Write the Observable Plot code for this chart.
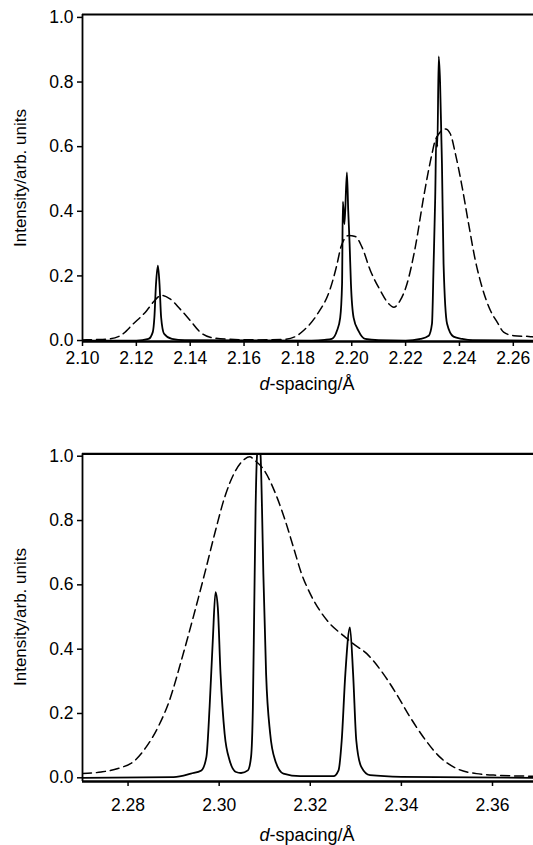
<!DOCTYPE html>
<html>
<head>
<meta charset="utf-8">
<script src="https://cdn.jsdelivr.net/npm/d3@7"></script>
<script src="https://cdn.jsdelivr.net/npm/@observablehq/plot@0.6"></script>
<style>
  html, body { margin: 0; padding: 0; background: white; }
  #chart { width: 533px; height: 845px; overflow: hidden; }
  #chart svg { display: block; }
</style>
</head>
<body>
<div id="chart"></div>
<script>
// ---------- data ----------
const yTicks = [0, 0.2, 0.4, 0.6, 0.8, 1.0];
const topXTicks = [2.10, 2.12, 2.14, 2.16, 2.18, 2.20, 2.22, 2.24, 2.26];
const bottomXTicks = [2.28, 2.30, 2.32, 2.34, 2.36];
const xLabelParts = ["d", "-spacing/Å"];
const yLabel = "Intensity/arb. units";

// top panel, solid (sharp) profile
const topSolidD = [2.1000, 2.1200, 2.1245, 2.1261, 2.1267, 2.1273, 2.1280, 2.1286, 2.1292, 2.1303, 2.1332, 2.1380,
  2.1850, 2.1900, 2.1926, 2.1945, 2.1957, 2.1964, 2.1967, 2.1973, 2.1982, 2.1987, 2.1992, 2.1997, 2.2007, 2.2025, 2.2050, 2.2100,
  2.2200, 2.2255, 2.2286, 2.2298, 2.2304, 2.2310, 2.2314, 2.2318, 2.2323, 2.2328, 2.2333, 2.2335, 2.2341, 2.2354, 2.2378, 2.2410, 2.2450, 2.2675];
const topSolidI = [0.000, 0.000, 0.005, 0.026, 0.072, 0.175, 0.232, 0.175, 0.072, 0.021, 0.005, 0.001,
  0.000, 0.002, 0.005, 0.030, 0.070, 0.175, 0.430, 0.360, 0.520, 0.400, 0.300, 0.175, 0.070, 0.030, 0.005, 0.001,
  0.000, 0.005, 0.015, 0.052, 0.237, 0.444, 0.630, 0.600, 0.879, 0.800, 0.620, 0.547, 0.237, 0.052, 0.012, 0.005, 0.001, 0.000];

// top panel, dashed (broad) profile
const topDashedD = [2.1000, 2.1050, 2.1100, 2.1146, 2.1189, 2.1239, 2.1263, 2.1294, 2.1325, 2.1362, 2.1400, 2.1437, 2.1474, 2.1540,
  2.1650, 2.1750, 2.1790, 2.1821, 2.1871, 2.1920, 2.1945, 2.1960, 2.1988, 2.2013, 2.2038, 2.2069, 2.2106, 2.2137, 2.2156,
  2.2180, 2.2205, 2.2236, 2.2267, 2.2298, 2.2310, 2.2348, 2.2366, 2.2385, 2.2410, 2.2434, 2.2459, 2.2484, 2.2515, 2.2540,
  2.2564, 2.2602, 2.2664, 2.2675];
const topDashedI = [0.002, 0.003, 0.005, 0.018, 0.052, 0.093, 0.119, 0.140, 0.129, 0.098, 0.062, 0.026, 0.010, 0.004,
  0.002, 0.004, 0.012, 0.031, 0.080, 0.160, 0.235, 0.290, 0.325, 0.322, 0.289, 0.217, 0.155, 0.114, 0.103,
  0.124, 0.175, 0.289, 0.444, 0.578, 0.619, 0.655, 0.640, 0.578, 0.475, 0.361, 0.248, 0.165, 0.093, 0.057,
  0.026, 0.015, 0.012, 0.011];

// bottom panel, solid (sharp) profile
const botSolidD = [2.2700, 2.2900, 2.2938, 2.2961, 2.2972, 2.2979, 2.2986, 2.2992, 2.2997, 2.3003, 2.3012, 2.3023, 2.3037,
  2.3048, 2.3063, 2.3070, 2.3074, 2.3077, 2.3080, 2.3083, 2.3087, 2.3091, 2.3094, 2.3097, 2.3103, 2.3112, 2.3123, 2.3141,
  2.3178, 2.3251, 2.3262, 2.3269, 2.3277, 2.3287, 2.3294, 2.3301, 2.3312, 2.3331, 2.3400, 2.3690];
const botSolidI = [0.000, 0.002, 0.013, 0.023, 0.065, 0.220, 0.427, 0.577, 0.530, 0.324, 0.137, 0.054, 0.018,
  0.015, 0.023, 0.065, 0.220, 0.530, 0.840, 1.000, 1.050, 1.000, 0.840, 0.634, 0.324, 0.137, 0.054, 0.013,
  0.005, 0.005, 0.023, 0.116, 0.324, 0.468, 0.324, 0.116, 0.034, 0.008, 0.003, 0.000];

// bottom panel, dashed (broad) profile
const botDashedD = [2.2700, 2.2741, 2.2778, 2.2815, 2.2840, 2.2866, 2.2891, 2.2917, 2.2943, 2.2968, 2.2990, 2.3012, 2.3034,
  2.3056, 2.3067, 2.3079, 2.3097, 2.3127, 2.3145, 2.3163, 2.3181, 2.3200, 2.3221, 2.3243, 2.3272, 2.3294, 2.3324, 2.3360,
  2.3389, 2.3419, 2.3448, 2.3484, 2.3521, 2.3565, 2.3608, 2.3690];
const botDashedI = [0.013, 0.018, 0.029, 0.054, 0.096, 0.158, 0.241, 0.365, 0.499, 0.634, 0.758, 0.872, 0.950,
  0.991, 0.998, 0.986, 0.960, 0.872, 0.800, 0.717, 0.634, 0.572, 0.520, 0.479, 0.443, 0.417, 0.386, 0.324,
  0.261, 0.189, 0.127, 0.065, 0.029, 0.013, 0.008, 0.005];

const zip = (ds, is) => ds.map((d, k) => ({d, i: is[k]}));

const FONT = "'Liberation Sans', Arial, sans-serif";

function panel({height, marginTop, marginBottom, xDomain, yDomain, xTicks, xTickPadding, solid, dashed, yLabelY, xLabelBaseline}) {
  const svg = Plot.plot({
    width: 533,
    height,
    marginTop,
    marginBottom,
    marginLeft: 82,
    marginRight: 0,
    style: {fontFamily: FONT, fontSize: "17px", color: "black", background: "white", overflow: "visible"},
    x: {domain: xDomain},
    y: {domain: yDomain},
    marks: [
      Plot.axisX({ticks: xTicks, tickFormat: d3.format(".2f"), tickSize: 5, tickPadding: xTickPadding, label: null, fontSize: 17.5, strokeWidth: 1.5}),
      Plot.axisY({ticks: yTicks, tickFormat: d3.format(".1f"), tickSize: 5, tickPadding: 4, label: null, fontSize: 17.5, strokeWidth: 1.5}),
      Plot.line(dashed, {x: "d", y: "i", stroke: "black", strokeWidth: 1.5, strokeDasharray: "9,5", curve: "monotone-x", clip: true}),
      Plot.line(solid, {x: "d", y: "i", stroke: "black", strokeWidth: 1.8, curve: "monotone-x", clip: true}),
      Plot.ruleX([xDomain[0]], {stroke: "black", strokeWidth: 1.8}),
      Plot.ruleY([yDomain[0]], {stroke: "black", strokeWidth: 2.6}),
      Plot.ruleY([yDomain[1]], {stroke: "black", strokeWidth: 2.2})
    ]
  });
  const s = d3.select(svg);
  // y axis label (rotated)
  s.append("text")
    .attr("transform", `translate(26,${yLabelY}) rotate(-90)`)
    .attr("text-anchor", "middle")
    .attr("font-family", FONT)
    .attr("font-size", 17)
    .attr("fill", "black")
    .text(yLabel);
  // x axis label with italic d
  const t = s.append("text")
    .attr("x", 307)
    .attr("y", xLabelBaseline)
    .attr("text-anchor", "middle")
    .attr("font-family", FONT)
    .attr("font-size", 18)
    .attr("fill", "black");
  t.append("tspan").attr("font-style", "italic").text(xLabelParts[0]);
  t.append("tspan").text(xLabelParts[1]);
  return svg;
}

const chart = document.getElementById("chart");
chart.appendChild(panel({
  height: 420, marginTop: 14, marginBottom: 79,
  xDomain: [2.10, 2.2675], yDomain: [-0.003, 1.009],
  xTicks: topXTicks, xTickPadding: 5,
  solid: zip(topSolidD, topSolidI), dashed: zip(topDashedD, topDashedI),
  yLabelY: 178, xLabelBaseline: 390
}));
chart.appendChild(panel({
  height: 425, marginTop: 33.3, marginBottom: 64,
  xDomain: [2.27, 2.369], yDomain: [-0.0115, 1.0075],
  xTicks: bottomXTicks, xTickPadding: 12,
  solid: zip(botSolidD, botSolidI), dashed: zip(botDashedD, botDashedI),
  yLabelY: 197, xLabelBaseline: 421
}));
</script>
</body>
</html>
